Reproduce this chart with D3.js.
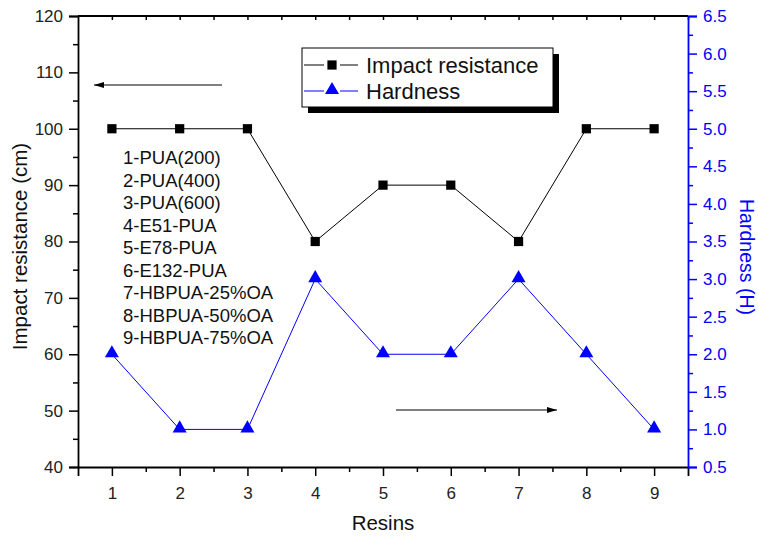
<!DOCTYPE html>
<html>
<head>
<meta charset="utf-8">
<script src="https://cdn.jsdelivr.net/npm/d3@7"></script>
<style>
body { margin: 0; background: #fff; }
text { font-family: "Liberation Sans", Arial, sans-serif; }
</style>
</head>
<body>
<div id="chart-area"></div>
<script>
var resins = [1, 2, 3, 4, 5, 6, 7, 8, 9];
var impact = [100, 100, 100, 80, 90, 90, 80, 100, 100];
var hardness = [2, 1, 1, 3, 2, 2, 3, 2, 1];
var resinNames = ["1-PUA(200)", "2-PUA(400)", "3-PUA(600)", "4-E51-PUA", "5-E78-PUA",
    "6-E132-PUA", "7-HBPUA-25%OA", "8-HBPUA-50%OA", "9-HBPUA-75%OA"];
var leftTicks = [40, 50, 60, 70, 80, 90, 100, 110, 120];
var rightTicks = [0.5, 1.0, 1.5, 2.0, 2.5, 3.0, 3.5, 4.0, 4.5, 5.0, 5.5, 6.0, 6.5];

var margin = { top: 16, right: 70, bottom: 69, left: 78 };
var width = 758 - margin.left - margin.right;
var height = 536 - margin.top - margin.bottom;
var blue = "#0000ff";

var svg = d3.select("#chart-area")
    .append("svg")
    .attr("width", 758)
    .attr("height", 536);

var g = svg.append("g")
    .attr("transform", "translate(" + margin.left + "," + margin.top + ")");

var x = d3.scaleLinear().domain([0.5, 9.5]).range([0, width]);
var y = d3.scaleLinear().domain([40, 120]).range([height, 0]);
var y2 = d3.scaleLinear().domain([0.5, 6.5]).range([height, 0]);

// minor ticks
function minor(axisG, axis) {
    axisG.call(axis);
    axisG.selectAll("text").remove();
    axisG.select(".domain").remove();
    axisG.selectAll("line").attr("stroke-width", 1.5);
}
minor(g.append("g").attr("transform", "translate(0," + height + ")"),
    d3.axisBottom(x).tickValues(d3.range(1.5, 9.5, 1)).tickSize(5));
minor(g.append("g"), d3.axisLeft(y).tickValues(d3.range(45, 120, 10)).tickSize(5));
minor(g.append("g"), d3.axisBottom(x).tickValues(d3.range(1, 9.6, 0.5)).tickSize(4));
var r2 = g.append("g").attr("transform", "translate(" + width + ",0)");
minor(r2, d3.axisRight(y2).tickValues(d3.range(0.75, 6.5, 0.5)).tickSize(5));
r2.selectAll("line").attr("stroke", blue);

// top border
g.append("line").attr("x1", 0).attr("x2", width).attr("y1", 0).attr("y2", 0)
    .attr("stroke", "#000").attr("stroke-width", 1.8);

var xAxis = g.append("g")
    .attr("transform", "translate(0," + height + ")")
    .call(d3.axisBottom(x).tickValues(resins).tickSize(9).tickPadding(11).tickFormat(d3.format("d")));

var yAxis = g.append("g")
    .call(d3.axisLeft(y).tickValues(leftTicks).tickSize(9).tickPadding(6));

var y2Axis = g.append("g")
    .attr("transform", "translate(" + width + ",0)")
    .call(d3.axisRight(y2).tickValues(rightTicks).tickSize(9).tickPadding(6).tickFormat(d3.format(".1f")));

[xAxis, yAxis, y2Axis].forEach(function(a) {
    a.selectAll("text").attr("font-size", "17px").attr("font-family", "'Liberation Sans', Arial, sans-serif");
    a.select(".domain").attr("stroke-width", 1.8);
    a.selectAll("line").attr("stroke-width", 1.5);
});
xAxis.selectAll("text").attr("fill", "#222");
yAxis.selectAll("text").attr("fill", "#222");
y2Axis.selectAll("text").attr("fill", blue);
y2Axis.select(".domain").attr("stroke", blue);
y2Axis.selectAll("line").attr("stroke", blue);

// series
var line1 = d3.line().x(function(d, i) { return x(resins[i]); }).y(function(d) { return y(d); });
var line2 = d3.line().x(function(d, i) { return x(resins[i]); }).y(function(d) { return y2(d); });

g.append("path").datum(impact).attr("d", line1)
    .attr("fill", "none").attr("stroke", "#000").attr("stroke-width", 1);
g.append("path").datum(hardness).attr("d", line2)
    .attr("fill", "none").attr("stroke", blue).attr("stroke-width", 1);

var sq = d3.symbol().type(d3.symbolSquare).size(85);
var tri = d3.symbol().type(d3.symbolTriangle).size(85);

g.selectAll(".sq").data(impact).enter().append("path")
    .attr("d", sq)
    .attr("transform", function(d, i) { return "translate(" + x(resins[i]) + "," + y(d) + ")"; })
    .attr("fill", "#000");

g.selectAll(".tri").data(hardness).enter().append("path")
    .attr("d", tri)
    .attr("transform", function(d, i) { return "translate(" + x(resins[i]) + "," + (y2(d) - 1) + ")"; })
    .attr("fill", blue);

// resin names
g.append("g").selectAll("text").data(resinNames).enter().append("text")
    .attr("x", 45)
    .attr("y", function(d, i) { return 148 + i * 22.5; })
    .attr("font-size", "18.5px")
    .attr("fill", "#111")
    .text(function(d) { return d; });

// arrows
svg.append("defs").append("marker")
    .attr("id", "arr").attr("viewBox", "0 0 10 6").attr("refX", 10).attr("refY", 3)
    .attr("markerWidth", 10).attr("markerHeight", 6).attr("markerUnits", "userSpaceOnUse")
    .attr("orient", "auto")
    .append("path").attr("d", "M0,0L10,3L0,6Z").attr("fill", "#000");

g.append("line").attr("x1", 222 - margin.left).attr("y1", 85 - margin.top)
    .attr("x2", 94 - margin.left).attr("y2", 85 - margin.top)
    .attr("stroke", "#000").attr("stroke-width", 1).attr("marker-end", "url(#arr)");
g.append("line").attr("x1", 396 - margin.left).attr("y1", 410 - margin.top)
    .attr("x2", 557 - margin.left).attr("y2", 410 - margin.top)
    .attr("stroke", "#000").attr("stroke-width", 1).attr("marker-end", "url(#arr)");

// legend
var leg = svg.append("g").attr("transform", "translate(302,48)");
leg.append("rect").attr("x", 6).attr("y", 6).attr("width", 251).attr("height", 59).attr("fill", "#000");
leg.append("rect").attr("x", 0).attr("y", 0).attr("width", 251).attr("height", 59)
    .attr("fill", "#fff").attr("stroke", "#000").attr("stroke-width", 1);
var legItems = [
    { name: "Impact resistance", color: "#000", sym: sq, y: 17 },
    { name: "Hardness", color: blue, sym: tri, y: 43 }
];
legItems.forEach(function(d) {
    leg.append("line").attr("x1", 2).attr("x2", 56).attr("y1", d.y).attr("y2", d.y)
        .attr("stroke", d.color).attr("stroke-width", 1);
    leg.append("rect").attr("x", 22).attr("y", d.y - 5).attr("width", 16).attr("height", 10).attr("fill", "#fff");
    leg.append("path").attr("d", d.sym).attr("fill", d.color)
        .attr("transform", "translate(30," + (d.y - (d.sym === tri ? 1 : 0)) + ")");
    leg.append("text").attr("x", 64).attr("y", d.y + 8).attr("font-size", "22px").attr("fill", "#111").text(d.name);
});

// axis labels
svg.append("text")
    .attr("transform", "translate(27," + (margin.top + height / 2 + 5) + ") rotate(-90)")
    .attr("text-anchor", "middle").attr("font-size", "20.5px").attr("fill", "#111")
    .text("Impact resistance (cm)");
svg.append("text")
    .attr("transform", "translate(740,257) rotate(90)")
    .attr("text-anchor", "middle").attr("font-size", "19.5px").attr("fill", blue)
    .text("Hardness (H)");
svg.append("text")
    .attr("x", margin.left + width / 2).attr("y", 530)
    .attr("text-anchor", "middle").attr("font-size", "20.5px").attr("fill", "#111")
    .text("Resins");
</script>
</body>
</html>
